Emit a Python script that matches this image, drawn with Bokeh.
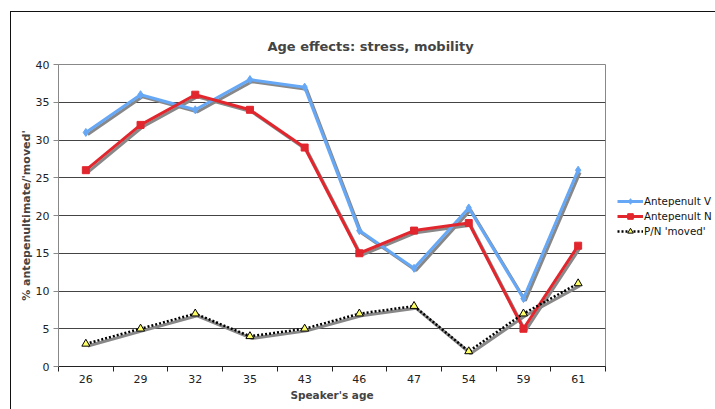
from bokeh.plotting import figure
from bokeh.models import (ColumnDataSource, Range1d, FixedTicker, Legend, LegendItem)
from bokeh.transform import dodge
from bokeh.embed import file_html
from bokeh.resources import INLINE
import numpy as np

ages = ["26", "29", "32", "35", "43", "46", "47", "54", "59", "61"]
antepenult_v = [31, 36, 34, 38, 37, 18, 13, 21, 9, 26]
antepenult_n = [26, 32, 36, 34, 29, 15, 18, 19, 5, 16]
pn_moved = [3, 5, 7, 4, 5, 7, 8, 2, 7, 11]

FONT = "DejaVu Sans"
pos = np.arange(len(ages)) + 0.5

src = ColumnDataSource(dict(x=pos, v=antepenult_v, n=antepenult_n, m=pn_moved))

p = figure(frame_width=547, frame_height=302, output_backend="svg", toolbar_location=None,
           x_range=Range1d(0, len(ages)), y_range=Range1d(0, 40),
           min_border_left=47, min_border_top=52, min_border_bottom=43, min_border_right=100,
           margin=(11, 0, 0, 10),
           styles={"border-left": "1px solid #111", "border-top": "1px solid #111"})
p.background_fill_color = "white"
p.border_fill_color = "white"
p.outline_line_color = "#888888"
p.outline_line_width = 1

p.title.text = "Age effects: stress, mobility"
p.title.text_font = FONT
p.title.text_font_size = "13px"
p.title.text_font_style = "bold"
p.title.align = "left"
p.title.offset = 209
p.title.standoff = 22

# axes
xa = p.xaxis[0]
xa.ticker = FixedTicker(ticks=list(pos), minor_ticks=list(range(len(ages) + 1)))
xa.major_label_overrides = {float(x): a for x, a in zip(pos, ages)}
xa.major_tick_out = 0
xa.major_tick_in = 0
xa.minor_tick_out = 5
xa.minor_tick_in = 0
xa.minor_tick_line_color = "#222"
xa.axis_line_color = "#222"
xa.major_label_text_font = FONT
xa.major_label_text_font_size = "11px"
xa.major_label_text_color = "#222"
xa.major_label_standoff = 3
xa.axis_label = "Speaker's age"
xa.axis_label_text_font = FONT
xa.axis_label_text_font_size = "10.5px"
xa.axis_label_text_font_style = "bold"
xa.axis_label_standoff = 3

ya = p.yaxis[0]
ya.ticker = FixedTicker(ticks=list(range(0, 45, 5)))
ya.major_tick_out = 5
ya.major_tick_in = 0
ya.minor_tick_line_color = None
ya.axis_line_color = "#888888"
ya.major_tick_line_color = "#888888"
ya.major_label_text_font = FONT
ya.major_label_text_font_size = "11px"
ya.major_label_text_color = "#222"
ya.major_label_standoff = 4
ya.axis_label = "% antepenultimate/'moved'"
ya.axis_label_text_font = FONT
ya.axis_label_text_font_size = "11px"
ya.axis_label_text_font_style = "bold"
ya.axis_label_standoff = 0

p.xgrid.grid_line_color = None
p.ygrid.grid_line_color = "#444444"
p.ygrid.grid_line_width = 1

sx = dodge("x", 0.035, range=p.x_range)

# shadows
for col in ["v", "n", "m"]:
    p.line(x=sx, y=dodge(col, -0.28), source=src, line_color="#888888", line_width=3)

blue = "#66A8F5"
red = "#E2262E"

lv = p.line("x", "v", source=src, line_color=blue, line_width=3)
sv = p.scatter("x", "v", source=src, marker="diamond", size=8, fill_color=blue, line_color=blue)
ln = p.line("x", "n", source=src, line_color=red, line_width=3)
sn = p.scatter("x", "n", source=src, marker="square", size=7, fill_color=red, line_color=red)
lm = p.line("x", "m", source=src, line_color="black", line_width=2.5, line_dash="2 2")
sm = p.scatter("x", "m", source=src, marker="triangle", size=8, fill_color="#FFFF66", line_color="black", line_width=1)

legend = Legend(items=[
    LegendItem(label="Antepenult V", renderers=[lv, sv]),
    LegendItem(label="Antepenult N", renderers=[ln, sn]),
    LegendItem(label="P/N 'moved'", renderers=[lm, sm]),
], location=(12, 128))
legend.padding = 0
legend.margin = 0
legend.spacing = 1
legend.glyph_width = 26
legend.glyph_height = 14
legend.label_standoff = 1
legend.label_height = 14
legend.label_text_font = FONT
legend.label_text_font_size = "10.3px"
legend.label_text_color = "#111"
legend.border_line_color = None
legend.background_fill_alpha = 0
p.add_layout(legend, "right")

open("out.html", "w").write(file_html(p, INLINE))
